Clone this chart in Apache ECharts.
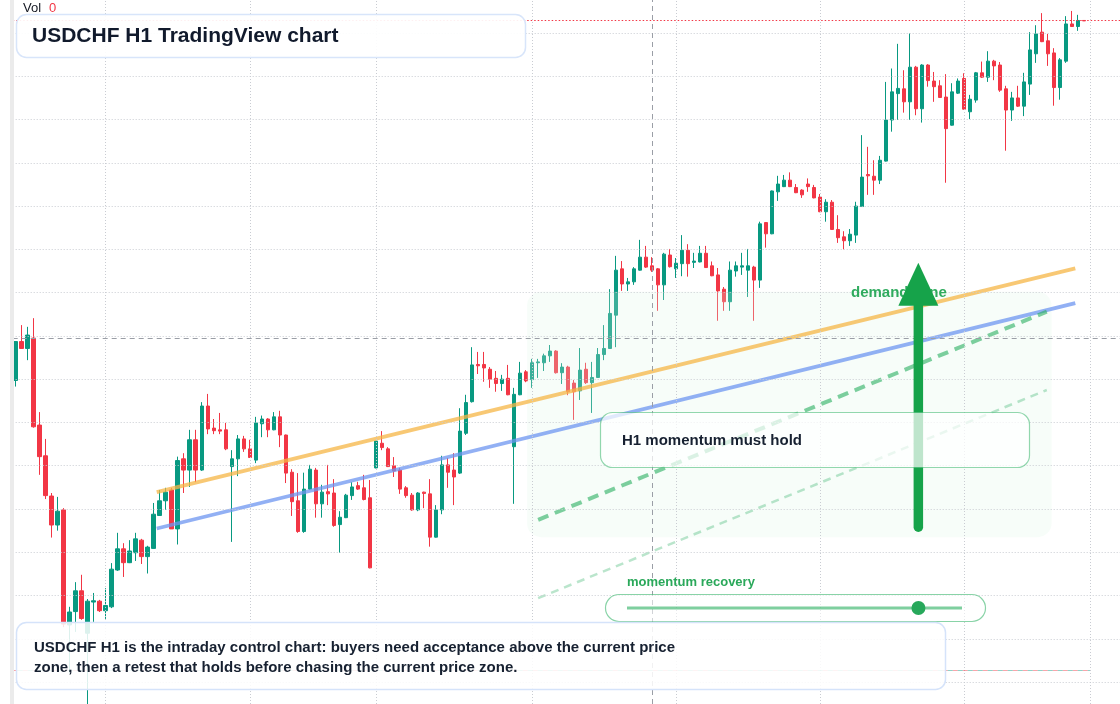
<!DOCTYPE html>
<html>
<head>
<meta charset="utf-8">
<script src="https://cdn.jsdelivr.net/npm/echarts@6.0.0/dist/echarts.min.js"></script>
<style>
html,body{margin:0;padding:0;background:#ffffff;overflow:hidden}
#chart{width:1120px;height:704px}
</style>
</head>
<body>
<div id="chart"></div>
<script>
// ---------------- data ----------------
const barCount = 185; // hourly slots on the time axis (includes empty right margin)
const categories = Array.from({length: barCount}, (_, i) => 'H' + i);

const opens = [
0.79697,0.79787,0.79771,0.79795,0.79594,0.79523,0.79430,0.79363,0.79398,0.79132,
0.79163,0.79211,0.79113,0.79185,0.79187,0.79165,0.79174,0.79259,0.79308,0.79276,
0.79299,0.79328,0.79290,0.79309,0.79385,0.79419,0.79444,0.79354,0.79516,0.79490,
0.79560,0.79490,0.79638,0.79587,0.79583,0.79583,0.79498,0.79516,0.79562,0.79539,
0.79513,0.79597,0.79608,0.79583,0.79613,0.79571,0.79485,0.79419,0.79348,0.79446,
0.79490,0.79412,0.79440,0.79437,0.79364,0.79380,0.79431,0.79454,0.79449,0.79426,
0.79495,0.79552,0.79539,0.79500,0.79490,0.79449,0.79432,0.79398,0.79439,0.79435,
0.79335,0.79398,0.79502,0.79490,0.79483,0.79575,0.79648,0.79734,0.79734,0.79723,
0.79702,0.79690,0.79702,0.79544,0.79664,0.79717,0.79699,0.79738,0.79738,0.79754,
0.79765,0.79715,0.79728,0.79691,0.79673,0.79723,0.79692,0.79704,0.79757,0.79771,
0.79848,0.79955,0.79920,0.79925,0.79952,0.79982,0.79962,0.79955,0.79918,0.79987,
0.79955,0.79967,0.79998,0.79970,0.79971,0.79991,0.79962,0.79941,0.79908,0.79879,
0.79950,0.79959,0.79952,0.79959,0.79929,0.80062,0.80036,0.80133,0.80145,0.80160,
0.80143,0.80137,0.80151,0.80143,0.80121,0.80087,0.80109,0.80046,0.80029,0.80020,
0.80033,0.80099,0.80173,0.80169,0.80160,0.80204,0.80299,0.80360,0.80371,0.80341,
0.80421,0.80325,0.80426,0.80389,0.80378,0.80352,0.80287,0.80361,0.80395,0.80318,
0.80345,0.80408,0.80398,0.80435,0.80426,0.80371,0.80322,0.80350,0.80331,0.80382,
0.80452,0.80502,0.80482,0.80454,0.80374,0.80435,0.80521,0.80515,0.80529
];
const closes = [
0.79787,0.79771,0.79802,0.79590,0.79521,0.79431,0.79363,0.79395,0.79134,0.79162,
0.79211,0.79147,0.79187,0.79188,0.79165,0.79177,0.79261,0.79308,0.79276,0.79303,
0.79331,0.79290,0.79312,0.79388,0.79419,0.79439,0.79354,0.79512,0.79490,0.79560,
0.79490,0.79638,0.79585,0.79581,0.79580,0.79539,0.79516,0.79562,0.79539,0.79519,
0.79599,0.79608,0.79583,0.79613,0.79571,0.79483,0.79417,0.79348,0.79446,0.79492,
0.79412,0.79439,0.79435,0.79362,0.79381,0.79432,0.79451,0.79446,0.79422,0.79264,
0.79557,0.79542,0.79498,0.79488,0.79446,0.79431,0.79398,0.79437,0.79436,0.79335,
0.79398,0.79502,0.79485,0.79474,0.79580,0.79646,0.79733,0.79731,0.79726,0.79700,
0.79690,0.79700,0.79664,0.79665,0.79714,0.79696,0.79738,0.79740,0.79754,0.79765,
0.79715,0.79728,0.79671,0.79671,0.79721,0.79692,0.79704,0.79757,0.79771,0.79852,
0.79952,0.79920,0.79925,0.79955,0.79982,0.79959,0.79952,0.79918,0.79989,0.79960,
0.79968,0.79998,0.79967,0.79973,0.79991,0.79958,0.79939,0.79904,0.79879,0.79952,
0.79962,0.79962,0.79962,0.79929,0.80059,0.80036,0.80135,0.80151,0.80160,0.80145,
0.80131,0.80126,0.80145,0.80119,0.80087,0.80109,0.80046,0.80027,0.80020,0.80035,
0.80100,0.80167,0.80170,0.80160,0.80206,0.80299,0.80364,0.80372,0.80341,0.80421,
0.80325,0.80426,0.80390,0.80376,0.80351,0.80279,0.80364,0.80389,0.80324,0.80347,
0.80408,0.80398,0.80435,0.80424,0.80368,0.80322,0.80350,0.80331,0.80387,0.80461,
0.80498,0.80480,0.80452,0.80374,0.80438,0.80521,0.80515,0.80529,0.80528
];
const lows = [
0.79683,0.79771,0.79744,0.79588,0.79479,0.79423,0.79334,0.79350,0.79127,0.79021,
0.79116,0.79144,0.78945,0.79139,0.79162,0.79146,0.79171,0.79257,0.79243,0.79275,
0.79280,0.79273,0.79251,0.79308,0.79384,0.79398,0.79354,0.79318,0.79437,0.79451,
0.79462,0.79488,0.79573,0.79573,0.79573,0.79536,0.79324,0.79476,0.79532,0.79518,
0.79506,0.79566,0.79566,0.79582,0.79543,0.79460,0.79384,0.79345,0.79345,0.79444,
0.79380,0.79380,0.79409,0.79359,0.79299,0.79379,0.79421,0.79444,0.79420,0.79263,
0.79494,0.79536,0.79497,0.79474,0.79435,0.79426,0.79396,0.79395,0.79402,0.79313,
0.79334,0.79388,0.79449,0.79409,0.79481,0.79571,0.79646,0.79712,0.79694,0.79680,
0.79671,0.79673,0.79663,0.79412,0.79663,0.79693,0.79680,0.79703,0.79719,0.79740,
0.79713,0.79689,0.79663,0.79606,0.79652,0.79689,0.79622,0.79703,0.79744,0.79770,
0.79774,0.79904,0.79904,0.79918,0.79951,0.79957,0.79948,0.79858,0.79883,0.79958,
0.79934,0.79938,0.79937,0.79957,0.79970,0.79957,0.79938,0.79835,0.79858,0.79858,
0.79937,0.79941,0.79890,0.79835,0.79911,0.80004,0.80035,0.80112,0.80144,0.80144,
0.80130,0.80119,0.80133,0.80118,0.80086,0.80064,0.80045,0.80015,0.80000,0.80008,
0.80015,0.80098,0.80126,0.80126,0.80151,0.80203,0.80272,0.80299,0.80316,0.80299,
0.80310,0.80293,0.80376,0.80341,0.80350,0.80154,0.80286,0.80359,0.80323,0.80301,
0.80339,0.80396,0.80387,0.80391,0.80364,0.80228,0.80297,0.80329,0.80308,0.80357,
0.80431,0.80479,0.80424,0.80332,0.80346,0.80431,0.80514,0.80505,0.80528
];
const highs = [
0.79787,0.79825,0.79821,0.79841,0.79624,0.79562,0.79437,0.79428,0.79402,0.79174,
0.79231,0.79248,0.79192,0.79206,0.79190,0.79217,0.79275,0.79345,0.79321,0.79328,
0.79345,0.79331,0.79315,0.79414,0.79444,0.79449,0.79449,0.79521,0.79529,0.79583,
0.79583,0.79647,0.79666,0.79608,0.79622,0.79599,0.79536,0.79571,0.79569,0.79560,
0.79613,0.79616,0.79610,0.79624,0.79627,0.79572,0.79492,0.79483,0.79484,0.79502,
0.79495,0.79456,0.79502,0.79469,0.79395,0.79435,0.79462,0.79463,0.79479,0.79467,
0.79557,0.79580,0.79543,0.79520,0.79495,0.79453,0.79437,0.79439,0.79440,0.79469,
0.79409,0.79523,0.79518,0.79529,0.79633,0.79664,0.79774,0.79763,0.79763,0.79728,
0.79719,0.79710,0.79733,0.79680,0.79740,0.79721,0.79747,0.79747,0.79759,0.79779,
0.79767,0.79737,0.79731,0.79698,0.79772,0.79738,0.79740,0.79772,0.79825,0.79908,
0.79985,0.79973,0.79934,0.79959,0.80022,0.80008,0.79982,0.79957,0.79992,0.80001,
0.79980,0.80033,0.80012,0.79992,0.80008,0.80008,0.79972,0.79957,0.79913,0.79972,
0.79972,0.79992,0.80001,0.79962,0.80064,0.80063,0.80136,0.80170,0.80172,0.80178,
0.80151,0.80139,0.80164,0.80149,0.80128,0.80116,0.80114,0.80079,0.80042,0.80047,
0.80110,0.80264,0.80237,0.80206,0.80216,0.80387,0.80418,0.80475,0.80414,0.80499,
0.80424,0.80428,0.80428,0.80410,0.80391,0.80405,0.80384,0.80395,0.80407,0.80357,
0.80410,0.80434,0.80458,0.80438,0.80433,0.80378,0.80364,0.80378,0.80408,0.80502,
0.80518,0.80546,0.80498,0.80465,0.80442,0.80539,0.80551,0.80542,0.80529
];

const gridPrices = [0.790,0.791,0.792,0.793,0.794,0.795,0.796,0.797,0.798,0.799,0.800,0.801,0.802,0.803,0.804,0.805];
const dayBreaks = [15, 39, 60, 86, 110, 134, 158, 179];
const lastPrice = 0.80529;
const crossPrice = 0.79795;
const crossBar = 106;
const sessionLow = 0.79028;
const sessionLowEnd = 179;

// drawn annotations (bar index, price)
const orangeTrend = [[23.5, 0.79439], [176.55, 0.79956]];
const blueTrend = [[23.5, 0.79355], [176.55, 0.79876]];
const retestPath = [[87.05, 0.79375], [171.8, 0.79856]];
const retestPathLow = [[87.05, 0.79194], [171.8, 0.79675]];
const demandZone = [[85.2, 0.79902, 172.6, 0.79335]]; // [x0, top, x1, bottom]
const arrowShaft = [[150.4, 0.79358], [150.4, 0.79883]];
const arrowHead = [[150.4, 0.799195]];
const momentumLevel = 0.87;

const priceMin = 0.789494, priceMax = 0.805763;

// ---------------- chart ----------------
const UP = '#089981', DOWN = '#f23645';
const candleData = opens.map((o, i) => [o, closes[i], lows[i], highs[i]]);
const FONT = '"Liberation Sans", Arial, sans-serif';

const chart = echarts.init(document.getElementById('chart'), null, {renderer: 'canvas'});

const lineSeries = (extra) => Object.assign({
  type: 'line', xAxisIndex: 1, yAxisIndex: 0, symbol: 'none', silent: true,
  animation: false
}, extra);
const mlBase = {silent: true, symbol: ['none', 'none'], label: {show: false}, animation: false, precision: 8};

const option = {
  animation: false,
  backgroundColor: '#ffffff',
  grid: {left: 12.7, right: -3, top: 0, bottom: 0, outerBoundsMode: 'none', containLabel: false},
  xAxis: [
    {type: 'category', data: categories, boundaryGap: true, show: false},
    {type: 'value', min: -0.5, max: barCount - 0.5, show: false}
  ],
  yAxis: [{type: 'value', min: priceMin, max: priceMax, show: false}],
  series: [
    // grid lines
    lineSeries({
      data: [[0, gridPrices[0]]], lineStyle: {opacity: 0}, z: 1,
      markLine: Object.assign({}, mlBase, {
        lineStyle: {color: '#c9ccd2', type: [1, 2], width: 1},
        data: gridPrices.map(p => ({yAxis: p})).concat(dayBreaks.map(b => ({xAxis: b})))
      })
    }),
    // candles
    {
      type: 'candlestick', name: 'USDCHF', xAxisIndex: 0, yAxisIndex: 0,
      data: candleData, barWidth: 4, z: 2, silent: true,
      itemStyle: {color: UP, color0: DOWN, borderColor: UP, borderColor0: DOWN, borderWidth: 1}
    },
    // demand zone (rounded, translucent)
    {
      type: 'custom', xAxisIndex: 1, yAxisIndex: 0, z: 3, silent: true, data: demandZone,
      renderItem: function (params, api) {
        const p0 = api.coord([api.value(0), api.value(1)]);
        const p1 = api.coord([api.value(2), api.value(3)]);
        return {
          type: 'rect',
          shape: {x: p0[0], y: p0[1], width: p1[0] - p0[0], height: p1[1] - p0[1], r: 14},
          style: {fill: 'rgba(222,246,230,0.24)'}
        };
      }
    },
    // trend lines
    lineSeries({data: orangeTrend, z: 4, lineStyle: {color: 'rgba(245,182,70,0.75)', width: 3.8}}),
    lineSeries({data: blueTrend, z: 4, lineStyle: {color: 'rgba(110,150,240,0.75)', width: 3.8}}),
    lineSeries({data: retestPath, z: 4, lineStyle: {color: 'rgba(40,175,95,0.6)', width: 4, type: [11, 7]}}),
    lineSeries({data: retestPathLow, z: 4, lineStyle: {color: 'rgba(40,175,95,0.32)', width: 2.5, type: [8, 6]}}),
    // crosshair + session low line
    lineSeries({
      data: [[0, crossPrice]], lineStyle: {opacity: 0}, z: 6,
      markLine: Object.assign({}, mlBase, {
        data: [
          {yAxis: crossPrice, lineStyle: {color: '#9a9ea6', type: [5, 4], width: 1}},
          {xAxis: crossBar, lineStyle: {color: '#9a9ea6', type: [5, 4], width: 1}},
          [{coord: [-0.5, sessionLow], lineStyle: {color: 'rgba(242,54,69,0.45)', type: [5, 5], width: 1}}, {coord: [sessionLowEnd, sessionLow]}],
          [{coord: [-0.5, sessionLow], lineStyle: {color: 'rgba(8,153,129,0.45)', type: [5, 5], dashOffset: 5, width: 1}}, {coord: [sessionLowEnd, sessionLow]}]
        ]
      })
    }),
    // arrow
    lineSeries({data: arrowShaft, z: 8, lineStyle: {color: '#16a34a', width: 9.5, cap: 'round'}}),
    {
      type: 'scatter', xAxisIndex: 1, yAxisIndex: 0, data: arrowHead, z: 8, silent: true,
      symbol: 'triangle', symbolSize: [40, 43], itemStyle: {color: '#16a34a', opacity: 1}
    },
    // last price line
    lineSeries({
      data: [[0, lastPrice]], lineStyle: {opacity: 0}, z: 9,
      markLine: Object.assign({}, mlBase, {
        lineStyle: {color: '#f23645', type: [1.5, 2], width: 1},
        data: [{yAxis: lastPrice}]
      })
    })
  ],
  graphic: [
    {type: 'text', z: 7, x: 851, y: 293, silent: true,
     style: {text: 'demand zone', font: 'bold 15px ' + FONT, fill: '#2fab5e', verticalAlign: 'middle'}},
    // H1 box
    {type: 'rect', z: 15, silent: true, shape: {x: 600.5, y: 412.5, width: 429, height: 55, r: 12},
     style: {fill: 'rgba(255,255,255,0.72)', stroke: 'rgba(40,175,95,0.5)', lineWidth: 1.2}},
    {type: 'text', z: 16, x: 622, y: 441, silent: true,
     style: {text: 'H1 momentum must hold', font: 'bold 15px ' + FONT, fill: '#172131', verticalAlign: 'middle'}},
    // momentum slider
    {type: 'text', z: 16, x: 627, y: 582, silent: true,
     style: {text: 'momentum recovery', font: 'bold 13px ' + FONT, fill: '#2aa85a', verticalAlign: 'middle'}},
    {type: 'rect', z: 15, silent: true, shape: {x: 605.5, y: 594.5, width: 380, height: 27, r: 13.5},
     style: {fill: 'rgba(255,255,255,0.55)', stroke: 'rgba(40,175,95,0.55)', lineWidth: 1.2}},
    {type: 'line', z: 16, silent: true, shape: {x1: 627, y1: 608, x2: 962, y2: 608},
     style: {stroke: 'rgba(40,175,95,0.6)', lineWidth: 3}},
    {type: 'circle', z: 17, silent: true, shape: {cx: 627 + momentumLevel * 335, cy: 608, r: 7},
     style: {fill: '#27a85b'}},
    // title box
    {type: 'rect', z: 15, silent: true, shape: {x: 16.5, y: 14.5, width: 509, height: 43, r: 10},
     style: {fill: 'rgba(255,255,255,0.92)', stroke: '#d8e5fa', lineWidth: 1.5}},
    {type: 'text', z: 16, x: 32, y: 36, silent: true,
     style: {text: 'USDCHF H1 TradingView chart', font: 'bold 21px ' + FONT, fill: '#111a2c', verticalAlign: 'middle'}},
    // bottom note
    {type: 'rect', z: 15, silent: true, shape: {x: 16.5, y: 622.5, width: 929, height: 67, r: 10},
     style: {fill: 'rgba(255,255,255,0.86)', stroke: '#d5e3fa', lineWidth: 1.5}},
    {type: 'text', z: 16, x: 34, y: 648, silent: true,
     style: {text: 'USDCHF H1 is the intraday control chart: buyers need acceptance above the current price', font: 'bold 15px ' + FONT, fill: '#172131', verticalAlign: 'middle'}},
    {type: 'text', z: 16, x: 34, y: 668, silent: true,
     style: {text: 'zone, then a retest that holds before chasing the current price zone.', font: 'bold 15px ' + FONT, fill: '#172131', verticalAlign: 'middle'}},
    // pane edge + volume legend
    {type: 'rect', z: 20, silent: true, shape: {x: 10, y: 0, width: 4, height: 704}, style: {fill: '#ebebeb'}},
    {type: 'text', z: 20, x: 23, y: 8.5, silent: true,
     style: {text: 'Vol', font: '13px ' + FONT, fill: '#131722', verticalAlign: 'middle'}},
    {type: 'text', z: 20, x: 49, y: 8.5, silent: true,
     style: {text: '0', font: '13px ' + FONT, fill: '#f23645', verticalAlign: 'middle'}}
  ]
};
chart.setOption(option);
</script>
</body>
</html>
